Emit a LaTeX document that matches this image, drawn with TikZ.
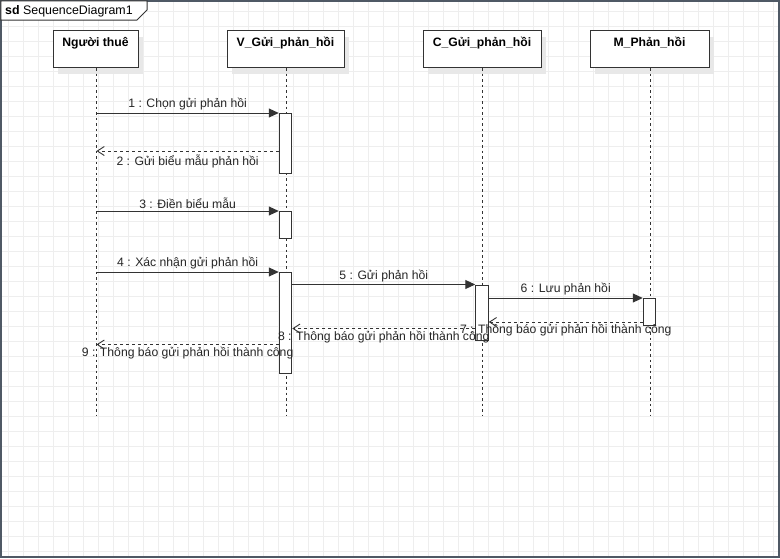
\documentclass[tikz,border=0pt]{standalone}
\usepackage{fontspec}
\setmainfont{Liberation Sans}
\usetikzlibrary{arrows.meta,shadows}
\definecolor{gridc}{HTML}{EEEEEE}
\definecolor{linec}{HTML}{333333}
\definecolor{txtc}{HTML}{262626}
\definecolor{framec}{HTML}{4F5965}
\begin{document}
\begin{tikzpicture}[x=1pt,y=-1pt,
  font=\fontsize{12.2}{14}\selectfont,
  gridline/.style={draw=gridc,line width=0.8pt},
  head/.style={draw=linec,line width=1pt,fill=white,minimum width=#1,
    inner xsep=0pt,inner ysep=3pt,text height=13pt,text depth=18pt,
    font=\fontsize{12.2}{14}\selectfont\bfseries,anchor=north,
    drop shadow={shadow xshift=5pt,shadow yshift=-6pt,fill=black!9,opacity=1}},
  lifeline/.style={draw=linec,line width=1pt,dash pattern=on 2.5pt off 3pt},
  actbar/.style={draw=linec,line width=1pt,fill=white,minimum width=12.5pt,
    minimum height=#1,inner sep=0pt,anchor=north},
  msg/.style={draw=linec,line width=1pt,-{Triangle[length=10pt,width=9pt]}},
  ret/.style={draw=linec,line width=0.9pt,dash pattern=on 3pt off 3pt,
    -{Straight Barb[length=7pt,width=9pt,line width=0.9pt]}},
  lbl/.style={text=txtc,inner sep=0pt,font=\fontsize{12.2}{14}\selectfont}
]
\useasboundingbox (0,0) rectangle (780,558);
% background grid
\fill[white] (0,0) rectangle (780,558);
\foreach \x in {8.5,23.5,...,779} \draw[gridline] (\x,0) -- (\x,558);
\foreach \y in {11,26,...,557} \draw[gridline] (0,\y) -- (780,\y);
% frame
\draw[framec,line width=1.6pt] (0.8,0.8) rectangle (779.2,557.2);
\draw[linec,line width=1pt,fill=white] (0.8,0.8) -- (147,0.8) -- (147,10) -- (137,20) -- (0.8,20) -- cycle;
\node[anchor=base west,inner sep=0pt,text=black,font=\fontsize{12.4}{14}\selectfont] (title) at (5,14) {\textbf{sd} SequenceDiagram1};
% lifeline ends
\coordinate (Pe) at (96.5,415);
\coordinate (Ve) at (286,415);
\coordinate (Ce) at (482,415);
\coordinate (Me) at (650,415);
% heads
\node[head=85pt] (P) at (95.5,30) {Người thuê};
\node[head=117pt] (V) at (285.5,30) {V\_Gửi\_phản\_hồi};
\node[head=118pt] (C) at (482,30) {C\_Gửi\_phản\_hồi};
\node[head=119pt] (M) at (649.5,30) {M\_Phản\_hồi};
% lifelines
\draw[lifeline] (P.south -| Pe) -- (Pe);
\draw[lifeline] (V.south -| Ve) -- (Ve);
\draw[lifeline] (C.south -| Ce) -- (Ce);
\draw[lifeline] (M.south -| Me) -- (Me);
% activation bars
\node[actbar=60pt] (v1) at (285.5,113) {};
\node[actbar=27pt] (v2) at (285.5,211) {};
\node[actbar=101pt] (v3) at (285.5,272) {};
\node[actbar=55.5pt] (c1) at (482,284.5) {};
\node[actbar=26.5pt] (m1) at (649.5,298) {};
% message points on the Nguoi thue lifeline
\coordinate (p1) at (96.5,113);
\coordinate (p2) at (96.5,151);
\coordinate (p3) at (96.5,211);
\coordinate (p4) at (96.5,272);
\coordinate (p9) at (96.5,344.5);
\coordinate (c7) at (482,322);
\coordinate (v8) at (285.5,328.5);
% messages
\draw[msg] (p1) -- (v1.north west) node[lbl,midway,above=2pt] {1 : Chọn gửi phản hồi};
\draw[ret] (v1.west |- p2) -- (p2) node[lbl,midway,below=3pt] {2 : Gửi biểu mẫu phản hồi};
\draw[msg] (p3) -- (v2.north west) node[lbl,midway,above=2pt] {3 : Điền biểu mẫu};
\draw[msg] (p4) -- (v3.north west) node[lbl,midway,above=2pt] {4 : Xác nhận gửi phản hồi};
\draw[msg] (v3.east |- c1.north) -- (c1.north west) node[lbl,midway,above=2pt] {5 : Gửi phản hồi};
\draw[msg] (c1.east |- m1.north) -- (m1.north west) node[lbl,midway,above=2pt] {6 : Lưu phản hồi};
\draw[ret] (m1.west |- c7) -- (c1.east |- c7) node[lbl,midway,below=2pt] {7 : Thông báo gửi phản hồi thành công};
\draw[ret] (c1.west |- v8) -- (v3.east |- v8) node[lbl,midway,below=2pt] {8 : Thông báo gửi phản hồi thành công};
\draw[ret] (v3.west |- p9) -- (p9) node[lbl,midway,below=2pt] {9 : Thông báo gửi phản hồi thành công};
\end{tikzpicture}
\end{document}
